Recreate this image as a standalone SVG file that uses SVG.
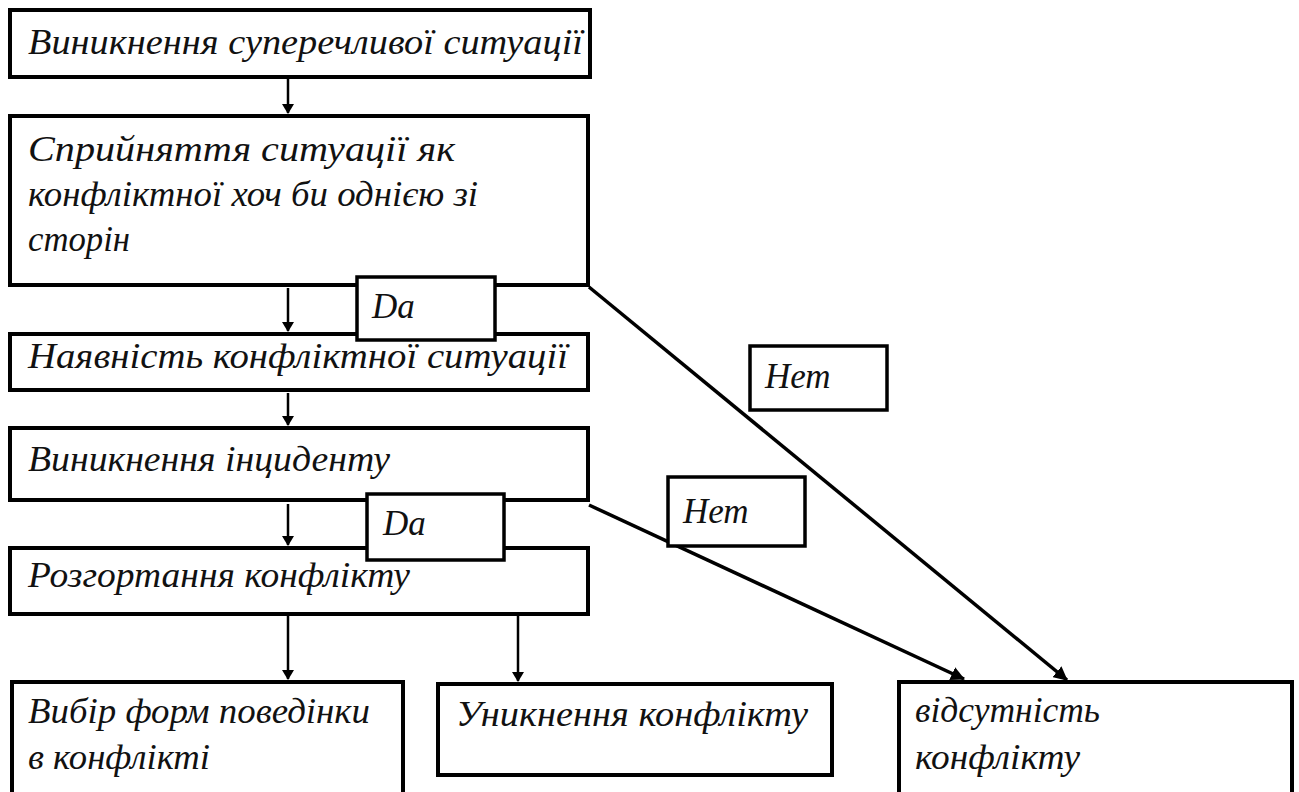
<svg xmlns="http://www.w3.org/2000/svg" width="1299" height="792" viewBox="0 0 1299 792">
<style>
.box{fill:#fff;stroke:#000;stroke-width:4}
.lbl{fill:#fff;stroke:#000;stroke-width:3.5}
.t{font-family:'Liberation Serif','DejaVu Serif',serif;font-style:italic;font-size:35px;fill:#111}
.arr{stroke:#000;stroke-width:2.5;fill:none;marker-end:url(#ah)}
.diag{stroke:#000;stroke-width:3.5;fill:none;marker-end:url(#ah2)}
</style>
<defs>
<marker id="ah" markerWidth="10" markerHeight="12" refX="9" refY="6" orient="auto" markerUnits="userSpaceOnUse" viewBox="0 0 10 12">
<path d="M0,0 L10,6 L0,12 Z" fill="#000"/>
</marker>
<marker id="ah2" markerWidth="14" markerHeight="14" refX="13" refY="7" orient="auto" markerUnits="userSpaceOnUse" viewBox="0 0 14 14">
<path d="M0,0 L14,7 L0,14 Z" fill="#000"/>
</marker>
</defs>
<rect width="1299" height="792" fill="#fff"/>
<g id="connectors">
<line class="arr" x1="288" y1="79" x2="288" y2="113"/>
<line class="arr" x1="288" y1="288" x2="288" y2="331"/>
<line class="arr" x1="288" y1="393" x2="288" y2="425"/>
<line class="arr" x1="288" y1="504" x2="288" y2="545"/>
<line class="arr" x1="288" y1="616" x2="288" y2="679"/>
<line class="arr" x1="518" y1="616" x2="518" y2="681"/>
<line class="diag" x1="589" y1="287" x2="1067" y2="680"/>
<line class="diag" x1="589" y1="505" x2="964" y2="679"/>
</g>
<g id="n1"><rect class="box" x="10" y="10" width="580" height="67"/>
<text class="t" x="28" y="54" textLength="555" lengthAdjust="spacingAndGlyphs">Виникнення суперечливої ситуації</text></g>
<g id="n2"><rect class="box" x="10" y="116" width="578" height="169"/>
<text class="t" x="28" y="161" textLength="427" lengthAdjust="spacingAndGlyphs">Сприйняття ситуації як</text>
<text class="t" x="28" y="206" textLength="450" lengthAdjust="spacingAndGlyphs">конфліктної хоч би однією зі</text>
<text class="t" x="28" y="251" textLength="102" lengthAdjust="spacingAndGlyphs">сторін</text></g>
<g id="n3"><rect class="box" x="10" y="334" width="578" height="56"/>
<text class="t" x="28" y="368" textLength="540" lengthAdjust="spacingAndGlyphs">Наявність конфліктної ситуації</text></g>
<g id="n4"><rect class="box" x="10" y="428" width="578" height="72"/>
<text class="t" x="28" y="471" textLength="362" lengthAdjust="spacingAndGlyphs">Виникнення інциденту</text></g>
<g id="n5"><rect class="box" x="10" y="548" width="578" height="66"/>
<text class="t" x="28" y="587" textLength="382" lengthAdjust="spacingAndGlyphs">Розгортання конфлікту</text></g>
<g id="da1"><rect class="lbl" x="357" y="277" width="138" height="63"/>
<text class="t" x="372" y="318">Da</text></g>
<g id="da2"><rect class="lbl" x="367" y="494" width="137" height="66"/>
<text class="t" x="383" y="535">Da</text></g>
<g id="net1"><rect class="lbl" x="750" y="346" width="137" height="64"/>
<text class="t" x="765" y="388">Нет</text></g>
<g id="net2"><rect class="lbl" x="668" y="477" width="137" height="69"/>
<text class="t" x="683" y="523">Нет</text></g>
<g id="n6"><rect class="box" x="12" y="682" width="391" height="130"/>
<text class="t" x="28" y="723" textLength="342" lengthAdjust="spacingAndGlyphs">Вибір форм поведінки</text>
<text class="t" x="28" y="769" textLength="182" lengthAdjust="spacingAndGlyphs">в конфлікті</text></g>
<g id="n7"><rect class="box" x="438" y="684" width="394" height="91"/>
<text class="t" x="456" y="726" textLength="352" lengthAdjust="spacingAndGlyphs">Уникнення конфлікту</text></g>
<g id="n8"><rect class="box" x="899" y="682" width="393" height="130"/>
<text class="t" x="915" y="722" textLength="185" lengthAdjust="spacingAndGlyphs">відсутність</text>
<text class="t" x="915" y="769" textLength="165" lengthAdjust="spacingAndGlyphs">конфлікту</text></g>
</svg>
